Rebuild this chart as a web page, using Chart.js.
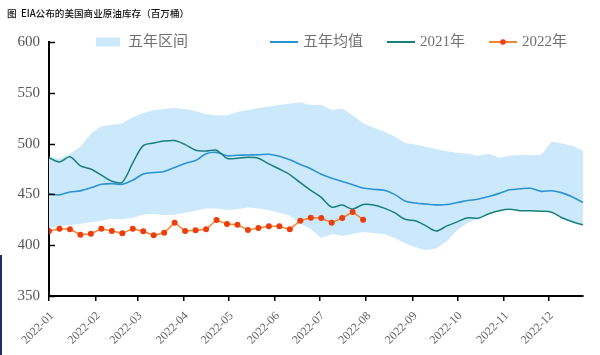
<!DOCTYPE html>
<html><head><meta charset="utf-8">
<script src="https://cdn.jsdelivr.net/npm/chart.js@4/dist/chart.umd.min.js"></script>
<style>
html,body{margin:0;padding:0;background:#fff;overflow:hidden}
#wrap{position:relative;width:600px;height:355px}
#edge{position:absolute;left:0;top:255px;width:2px;height:100px;background:#1d3160}
</style></head>
<body><div id="wrap"><canvas id="c" width="600" height="355" style="width:600px;height:355px"></canvas><div id="edge"></div></div>
<script>
const titleText = '图  EIA公布的美国商业原油库存（百万桶）';
const weekDates = [
 '2022-01-01','2022-01-08','2022-01-15','2022-01-22','2022-01-29',
 '2022-02-05','2022-02-12','2022-02-19','2022-02-26',
 '2022-03-05','2022-03-12','2022-03-19','2022-03-26',
 '2022-04-02','2022-04-09','2022-04-16','2022-04-23','2022-04-30',
 '2022-05-07','2022-05-14','2022-05-21','2022-05-28',
 '2022-06-04','2022-06-11','2022-06-18','2022-06-25',
 '2022-07-02','2022-07-09','2022-07-16','2022-07-23','2022-07-30',
 '2022-08-06','2022-08-13','2022-08-20','2022-08-27',
 '2022-09-03','2022-09-10','2022-09-17','2022-09-24',
 '2022-10-01','2022-10-08','2022-10-15','2022-10-22','2022-10-29',
 '2022-11-05','2022-11-12','2022-11-19','2022-11-26',
 '2022-12-03','2022-12-10','2022-12-17','2022-12-24'];
const monthTicks = ['2022-01','2022-02','2022-03','2022-04','2022-05','2022-06','2022-07','2022-08','2022-09','2022-10','2022-11','2022-12'];
const yTicks = [350,400,450,500,550,600];

const rangeHigh = [487,485,490,497,510,517,518.5,520,526,530,533,534,535,534,532,529,528,528,531,533,535,536.5,538,539.5,540.5,538,538,533,534.5,528,520,515.5,512,507,500.5,499,497,494.5,492.5,491,490,488,490,486,488,489,488.5,489,502,500,498,493];
const rangeLow = [417,419,420,421,422.5,424,426,425.5,427,430,431,429.5,430,432,434,436,436,434.6,435.5,437,436,434.6,432,429,421,416,407,411,409,411,413,412,411,407,402,398,395,397,404,415,422,426,431,434,435.3,434,434,433.5,432.5,427,423,420];
const fiveYearAvg = [450.5,449.5,452.3,453.5,456.5,460,460.6,460,464,470,471.5,472.5,476.5,480.5,483.3,490,491.4,488,488.5,488.8,489,489.5,487.5,484,479.5,475.2,469.9,466,462.8,459.5,456.3,455,454,450,443.5,441.5,440.5,439.7,440,442,444,445.3,448,451,454.5,455.5,456,453,453.6,451.5,447.5,442];
const y2021 = [486,482,487,478,475,469,463,462,481,498,500.5,502.5,503,499,493.5,492.8,493.5,485.5,485.5,486.5,485.5,480,475,469.5,461.5,454,447,437.5,439.5,435.6,440,439.6,436.5,432,425.5,424,419,414,419,423,427,426.5,431,434,435.3,434,434,433.5,432.5,427,423,420];
const y2022 = [414,416.2,415.6,410.4,411.3,416.2,414,411.7,416.2,413.7,409.7,412.3,422.2,414,414.6,415.6,424.8,420.9,420.2,415,417,418.6,418.6,415.6,424.1,427.1,426.8,422.2,426.8,432.7,425.1];

const labels = ['五年区间','五年均值','2021年','2022年'];
const colBand = '#cbe9fb', colAvg = '#2a93d3', col21 = '#17807f', col22line = '#f2862e', col22pt = '#ec3e0c';

const day0 = Date.UTC(2022,0,1);
function dayOf(s){const p=s.split('-').map(Number);return (Date.UTC(p[0],p[1]-1,p[2]||1)-day0)/86400000;}
const xs = weekDates.map(dayOf);
const pts = arr => arr.map((v,i)=>({x:xs[i],y:v}));

const serif = "'Liberation Serif','Noto Sans CJK SC',serif";

const deco = {
  id:'deco',
  afterDraw(chart){
    const {ctx, chartArea:a, scales:{y}} = chart;
    ctx.save();
    ctx.strokeStyle='#000'; ctx.lineWidth=1.5;
    y.ticks.forEach(t=>{const py=Math.round(y.getPixelForValue(t.value))+0.5;ctx.beginPath();ctx.moveTo(a.left,py);ctx.lineTo(a.left+6,py);ctx.stroke();});
    ctx.fillStyle='#111'; ctx.font="500 9.6px 'Noto Sans CJK SC',sans-serif"; ctx.textBaseline='middle'; ctx.textAlign='left';
    ctx.fillText(titleText, 7, 13);
    const lx=[96,270,387,489], ly=42;
    ctx.font="15px "+serif;
    ctx.fillStyle=colBand; ctx.fillRect(lx[0],ly-4.5,24,9);
    ctx.fillStyle='#707070'; ctx.fillText(labels[0], lx[0]+32, ly);
    const lc=[colAvg,col21,col22line];
    for(let i=1;i<4;i++){
      ctx.strokeStyle=lc[i-1]; ctx.lineWidth=2; ctx.beginPath(); ctx.moveTo(lx[i],ly); ctx.lineTo(lx[i]+28,ly); ctx.stroke();
      if(i===3){ctx.fillStyle=col22pt;ctx.beginPath();ctx.arc(lx[i]+14,ly,2.8,0,Math.PI*2);ctx.fill();}
      ctx.fillStyle='#707070'; ctx.fillText(labels[i], lx[i]+33, ly);
    }
    ctx.restore();
  }
};

new Chart(document.getElementById('c'),{
  type:'line',
  data:{datasets:[
    {label:labels[0],data:pts(rangeHigh),fill:1,backgroundColor:colBand,borderColor:'rgba(0,0,0,0)',borderWidth:0,pointRadius:0,tension:0,order:5},
    {label:'low',data:pts(rangeLow),fill:false,borderColor:'rgba(0,0,0,0)',borderWidth:0,pointRadius:0,tension:0,order:6},
    {label:labels[1],data:pts(fiveYearAvg),borderColor:colAvg,borderWidth:1.6,pointRadius:0,tension:0.3,fill:false,order:3},
    {label:labels[2],data:pts(y2021),borderColor:col21,borderWidth:1.5,pointRadius:0,tension:0.3,fill:false,order:2},
    {label:labels[3],data:pts(y2022),borderColor:col22line,borderWidth:1.5,pointRadius:3,pointBackgroundColor:col22pt,pointBorderColor:col22pt,pointBorderWidth:0,tension:0,fill:false,order:1}
  ]},
  options:{
    responsive:false, animation:false, devicePixelRatio:1,
    layout:{padding:{top:42,right:17,left:0,bottom:0}},
    plugins:{legend:{display:false},title:{display:false},tooltip:{enabled:false},filler:{drawTime:'beforeDatasetsDraw'}},
    scales:{
      x:{type:'linear',min:0,max:dayOf('2022-12-24'),
        afterBuildTicks:s=>{s.ticks=monthTicks.map(m=>({value:dayOf(m+'-01')}));},
        afterFit:s=>{s.height=59;},
        ticks:{autoSkip:false,minRotation:45,maxRotation:45,color:'#666',font:{family:serif,size:12},padding:8,labelOffset:3,callback:(v,i)=>monthTicks[i]},
        grid:{display:true,drawOnChartArea:false,drawTicks:true,tickLength:5,color:'#000',lineWidth:1.5},
        border:{display:true,color:'#000',width:2}},
      y:{min:350,max:600,
        afterBuildTicks:s=>{s.ticks=yTicks.map(v=>({value:v}));},
        afterFit:s=>{s.width=49;},
        ticks:{color:'#555',font:{family:serif,size:15},padding:9},
        grid:{display:true,drawOnChartArea:false,drawTicks:false},
        border:{display:true,color:'#000',width:2}}
    }
  },
  plugins:[deco]
});
</script></body></html>
